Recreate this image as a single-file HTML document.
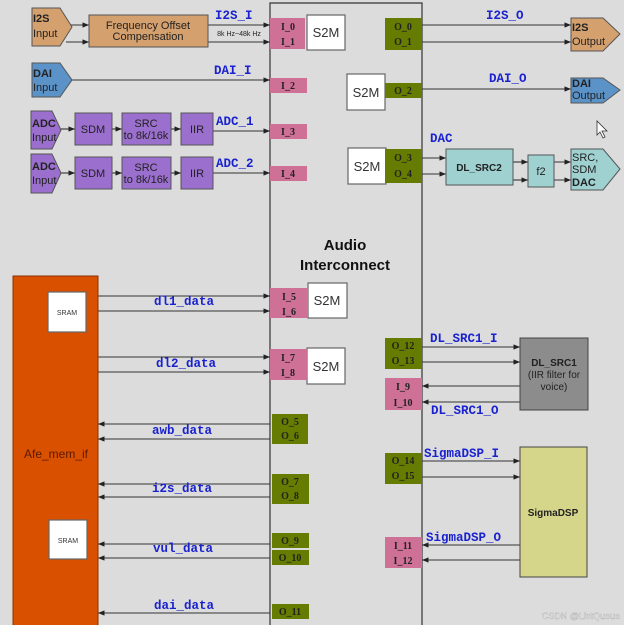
<!DOCTYPE html>
<html><head><meta charset="utf-8"><style>
html,body{margin:0;padding:0;background:#dcdcdc;}
svg{display:block;}
.lb{font-family:"Liberation Mono",monospace;font-weight:bold;font-size:12.5px;fill:#1a22d0;}
.pt{font-family:"Liberation Serif",serif;font-weight:bold;font-size:10px;fill:#222;}
.sf{font-family:"Liberation Sans",sans-serif;font-size:11px;fill:#222;}
.sm{font-family:"Liberation Sans",sans-serif;font-size:13px;fill:#333;}
</style></head><body>
<svg width="624" height="625" viewBox="0 0 624 625" xmlns="http://www.w3.org/2000/svg">
<defs><marker id="a" viewBox="0 0 10 10" refX="10" refY="5" markerWidth="6" markerHeight="6" orient="auto-start-reverse"><path d="M0,1 L10,5 L0,9 z" fill="#222"/></marker></defs>
<rect width="624" height="625" fill="#dcdcdc"/>
<path d="M270,625 V3 H422 V625" fill="none" stroke="#333" stroke-width="1.2"/>
<text x="345" y="250" text-anchor="middle" font-family="Liberation Sans,sans-serif" font-weight="bold" font-size="15" fill="#111">Audio</text>
<text x="345" y="270" text-anchor="middle" font-family="Liberation Sans,sans-serif" font-weight="bold" font-size="15" fill="#111">Interconnect</text>

<g stroke="#333" stroke-width="1.1" fill="none" marker-end="url(#a)">
<line x1="66" y1="25" x2="89" y2="25"/><line x1="66" y1="42" x2="89" y2="42"/>
<line x1="208" y1="25" x2="270" y2="25"/><line x1="208" y1="42" x2="270" y2="42"/>
<line x1="72" y1="80" x2="270" y2="80"/>
<line x1="61" y1="129" x2="75" y2="129"/><line x1="112" y1="129" x2="122" y2="129"/><line x1="171" y1="129" x2="181" y2="129"/><line x1="213" y1="131" x2="270" y2="131"/>
<line x1="61" y1="173" x2="75" y2="173"/><line x1="112" y1="173" x2="122" y2="173"/><line x1="171" y1="173" x2="181" y2="173"/><line x1="213" y1="173" x2="270" y2="173"/>
<line x1="422" y1="25" x2="571" y2="25"/><line x1="422" y1="42" x2="571" y2="42"/>
<line x1="422" y1="89" x2="571" y2="89"/>
<line x1="422" y1="158" x2="446" y2="158"/><line x1="422" y1="174" x2="446" y2="174"/>
<line x1="513" y1="162" x2="528" y2="162"/><line x1="513" y1="180" x2="528" y2="180"/>
<line x1="554" y1="162" x2="571" y2="162"/><line x1="554" y1="180" x2="571" y2="180"/>
<line x1="98" y1="296" x2="270" y2="296"/><line x1="98" y1="311" x2="270" y2="311"/>
<line x1="98" y1="357" x2="270" y2="357"/><line x1="98" y1="372" x2="270" y2="372"/>
<line x1="270" y1="424" x2="98" y2="424"/><line x1="270" y1="439" x2="98" y2="439"/>
<line x1="270" y1="484" x2="98" y2="484"/><line x1="270" y1="497" x2="98" y2="497"/>
<line x1="270" y1="544" x2="98" y2="544"/><line x1="270" y1="558" x2="98" y2="558"/>
<line x1="270" y1="613" x2="98" y2="613"/>
<line x1="422" y1="347" x2="520" y2="347"/><line x1="422" y1="362" x2="520" y2="362"/>
<line x1="520" y1="386" x2="422" y2="386"/><line x1="520" y1="402" x2="422" y2="402"/>
<line x1="422" y1="461" x2="520" y2="461"/><line x1="422" y1="477" x2="520" y2="477"/>
<line x1="520" y1="545" x2="422" y2="545"/><line x1="520" y1="560" x2="422" y2="560"/>
</g>

<g stroke="#555" stroke-width="1">
<polygon points="32,8 60,8 72,27 60,46 32,46" fill="#d4a06e"/>
<polygon points="32,63 60,63 72,80 60,97 32,97" fill="#5b93c9"/>
<polygon points="31,111 52,111 61,130 52,149 31,149" fill="#9b6fce"/>
<polygon points="31,154 52,154 61,173 52,193 31,193" fill="#9b6fce"/>
<rect x="89" y="15" width="119" height="32" fill="#d4a06e"/>
<rect x="75" y="113" width="37" height="32" fill="#9b6fce"/><rect x="122" y="113" width="49" height="32" fill="#9b6fce"/><rect x="181" y="113" width="32" height="32" fill="#9b6fce"/>
<rect x="75" y="157" width="37" height="32" fill="#9b6fce"/><rect x="122" y="157" width="49" height="32" fill="#9b6fce"/><rect x="181" y="157" width="32" height="32" fill="#9b6fce"/>
<polygon points="571,18 603,18 620,34 603,51 571,51" fill="#d4a06e"/>
<polygon points="571,78 603,78 620,90 603,103 571,103" fill="#5b93c9"/>
<polygon points="571,149 603,149 620,169 603,190 571,190" fill="#9fd1d1"/>
<rect x="446" y="149" width="67" height="36" fill="#9fd1d1"/>
<rect x="528" y="155" width="26" height="32" fill="#9fd1d1"/>
<rect x="13" y="276" width="85" height="352" fill="#d95000" stroke="#8a3000"/>
<rect x="520" y="338" width="68" height="72" fill="#8c8c8c" stroke="#444"/>
<rect x="520" y="447" width="67" height="130" fill="#d6d68a" stroke="#444"/>
</g>
<g fill="#fff" stroke="#666" stroke-width="1.2">
<rect x="307" y="15" width="38" height="35"/><rect x="347" y="74" width="38" height="36"/><rect x="348" y="148" width="38" height="36"/>
<rect x="308" y="283" width="39" height="35"/><rect x="307" y="348" width="38" height="36"/>
<rect x="48" y="292" width="38" height="40"/><rect x="49" y="520" width="38" height="39"/>
</g>
<g fill="#cf7097">
<rect x="270" y="18" width="35" height="31"/><rect x="270" y="78" width="37" height="15"/><rect x="270" y="124" width="37" height="15"/><rect x="270" y="166" width="37" height="15"/>
<rect x="270" y="288" width="38" height="30"/><rect x="270" y="349" width="37" height="31"/>
<rect x="385" y="378" width="37" height="32"/><rect x="385" y="537" width="37" height="31"/>
</g>
<g fill="#667c00">
<rect x="385" y="18" width="37" height="32"/><rect x="385" y="83" width="37" height="15"/><rect x="385" y="149" width="37" height="34"/>
<rect x="272" y="414" width="36" height="30"/><rect x="272" y="474" width="37" height="30"/><rect x="272" y="533" width="37" height="15"/><rect x="272" y="550" width="37" height="15"/><rect x="272" y="604" width="37" height="15"/>
<rect x="385" y="338" width="37" height="31"/><rect x="385" y="453" width="37" height="31"/>
</g>
<g class="pt" text-anchor="middle">
<text x="288" y="30">I_0</text><text x="288" y="45">I_1</text><text x="288" y="89">I_2</text><text x="288" y="135">I_3</text><text x="288" y="177">I_4</text>
<text x="289" y="300">I_5</text><text x="289" y="315">I_6</text><text x="288" y="361">I_7</text><text x="288" y="376">I_8</text>
<text x="403" y="390">I_9</text><text x="403" y="406">I_10</text><text x="403" y="549">I_11</text><text x="403" y="564">I_12</text>
<text x="403" y="30">O_0</text><text x="403" y="45">O_1</text><text x="403" y="94">O_2</text><text x="403" y="161">O_3</text><text x="403" y="177">O_4</text>
<text x="290" y="425">O_5</text><text x="290" y="439">O_6</text><text x="290" y="485">O_7</text><text x="290" y="499">O_8</text>
<text x="290" y="544">O_9</text><text x="290" y="561">O_10</text><text x="290" y="615">O_11</text>
<text x="403" y="349">O_12</text><text x="403" y="364">O_13</text><text x="403" y="464">O_14</text><text x="403" y="479">O_15</text>
</g>
<g class="sm" text-anchor="middle">
<text x="326" y="37">S2M</text><text x="366" y="97">S2M</text><text x="367" y="171">S2M</text><text x="327" y="305">S2M</text><text x="326" y="371">S2M</text>
</g>
<g class="sf">
<text x="33" y="22" font-weight="bold">I2S</text><text x="33" y="37">Input</text>
<text x="33" y="77" font-weight="bold">DAI</text><text x="33" y="91">Input</text>
<text x="32" y="127" font-weight="bold">ADC</text><text x="32" y="141">Input</text>
<text x="32" y="170" font-weight="bold">ADC</text><text x="32" y="184">Input</text>
<text x="572" y="31" font-weight="bold">I2S</text><text x="572" y="45">Output</text>
<text x="572" y="87" font-weight="bold">DAI</text><text x="572" y="99">Output</text>
<text x="572" y="161">SRC,</text><text x="572" y="173">SDM</text><text x="572" y="186" font-weight="bold">DAC</text>
<text x="148" y="29" text-anchor="middle">Frequency Offset</text><text x="148" y="40" text-anchor="middle">Compensation</text>
<text x="93" y="133" text-anchor="middle">SDM</text><text x="146" y="127" text-anchor="middle">SRC</text><text x="146" y="139" text-anchor="middle">to 8k/16k</text><text x="197" y="133" text-anchor="middle">IIR</text>
<text x="93" y="177" text-anchor="middle">SDM</text><text x="146" y="171" text-anchor="middle">SRC</text><text x="146" y="183" text-anchor="middle">to 8k/16k</text><text x="197" y="177" text-anchor="middle">IIR</text>
<text x="479" y="171" text-anchor="middle" font-weight="bold" font-size="10">DL_SRC2</text>
<text x="541" y="175" text-anchor="middle">f2</text>
<text x="554" y="366" text-anchor="middle" font-weight="bold" font-size="10">DL_SRC1</text>
<text x="554" y="378" text-anchor="middle" font-size="10">(IIR filter for</text>
<text x="554" y="390" text-anchor="middle" font-size="10">voice)</text>
<text x="553" y="516" text-anchor="middle" font-weight="bold" font-size="10">SigmaDSP</text>
<text x="56" y="458" text-anchor="middle" font-size="12" fill="#5a1a00">Afe_mem_if</text>
<text x="67" y="315" text-anchor="middle" font-size="7" fill="#333">SRAM</text>
<text x="68" y="543" text-anchor="middle" font-size="7" fill="#333">SRAM</text>
<text x="239" y="36" text-anchor="middle" font-size="7">8k Hz~48k Hz</text>
</g>
<g class="lb">
<text x="215" y="19">I2S_I</text><text x="214" y="74">DAI_I</text><text x="216" y="125">ADC_1</text><text x="216" y="167">ADC_2</text>
<text x="486" y="19">I2S_O</text><text x="489" y="82">DAI_O</text><text x="430" y="142">DAC</text>
<text x="154" y="305">dl1_data</text><text x="156" y="367">dl2_data</text><text x="152" y="434">awb_data</text><text x="152" y="492">i2s_data</text><text x="153" y="552">vul_data</text><text x="154" y="609">dai_data</text>
<text x="430" y="342">DL_SRC1_I</text><text x="431" y="414">DL_SRC1_O</text><text x="424" y="457">SigmaDSP_I</text><text x="426" y="541">SigmaDSP_O</text>
</g>
<path d="M597,121 L597,135 L600,132 L603,138 L605,137 L602,131 L607,131 Z" fill="#fff" stroke="#333" stroke-width="0.8"/>
<text x="620" y="619" text-anchor="end" font-family="Liberation Sans,sans-serif" font-size="9" fill="#fff" stroke="#999" stroke-width="0.3">CSDN @ListQueue</text>
</svg>
</body></html>
